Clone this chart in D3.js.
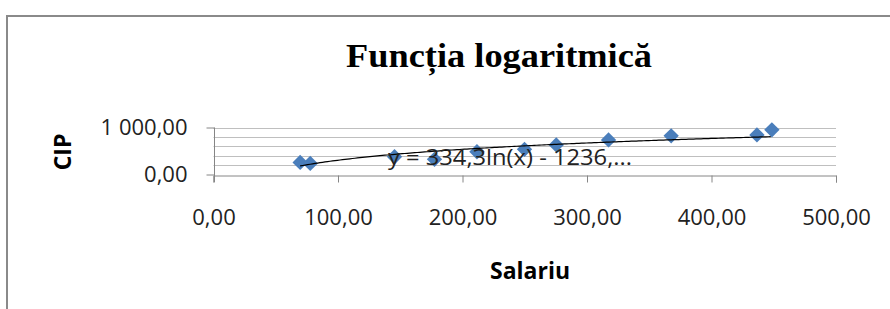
<!DOCTYPE html>
<html>
<head>
<meta charset="utf-8">
<script src="https://cdn.jsdelivr.net/npm/d3@7"></script>
<style>
body { margin: 0; background: #fff; }
</style>
</head>
<body>
<script>
// data
var salariu = [69.6, 77.7, 145.4, 177.5, 211.6, 249.8, 275.3, 317.3, 367.6, 436.5, 448.5];
var cip = [257, 236, 378, 322, 485, 536, 629, 736, 822, 843, 951];
var trendA = 334.3, trendB = -1236;
var xTicks = [0, 100, 200, 300, 400, 500];
var yGrid = [0, 200, 400, 600, 800, 1000];
var yLabels = [0, 1000];

var width = 890, height = 309;
var font = "'Open Sans', Lato, sans-serif";
var fmt = function(v) {
  return d3.format(",.2f")(v).replace(/,/g, " ").replace(".", ",");
};

var svg = d3.select("body").append("svg")
  .attr("width", width)
  .attr("height", height);

// outer frame
svg.append("path")
  .attr("d", "M7,309 V16 H890")
  .attr("fill", "none")
  .attr("stroke", "#8a8a8a")
  .attr("stroke-width", 2);

var x = d3.scaleLinear().domain([0, 500]).range([213.5, 836]);
var y = d3.scaleLinear().domain([0, 1000]).range([174.5, 127.5]);

// gridlines
svg.selectAll(".grid")
  .data(yGrid.slice(1))
  .enter().append("line")
  .attr("x1", x(0)).attr("x2", x(500))
  .attr("y1", function(d) { return Math.round(y(d)) + 0.5; })
  .attr("y2", function(d) { return Math.round(y(d)) + 0.5; })
  .attr("stroke", "#bfbfbf");

// y axis
var yAxis = svg.append("g")
  .attr("transform", "translate(" + (Math.round(x(0)) + 0.5) + ",0)")
  .call(d3.axisLeft(y).tickValues(yLabels).tickFormat(fmt).tickSize(8).tickPadding(19));

// x axis
var xAxis = svg.append("g")
  .attr("transform", "translate(0," + (Math.round(y(0)) + 0.5) + ")")
  .call(d3.axisBottom(x).tickValues(xTicks).tickFormat(fmt).tickSize(7).tickPadding(27));

[xAxis, yAxis].forEach(function(g) {
  g.select(".domain").attr("stroke", "#868686");
  g.selectAll(".tick line").attr("stroke", "#868686");
  g.selectAll("text")
    .attr("fill", "#222")
    .style("font-family", font)
    .style("font-size", "22px");
});
yAxis.select(".domain").attr("d", "M-0,127.5V182");

// trendline from label coefficients
var xs = d3.range(salariu[0], d3.max(salariu) + 0.1, 2);
var line = d3.line()
  .x(function(d) { return x(d); })
  .y(function(d) { return y(trendA * Math.log(d) + trendB); });

// points
var pts = salariu.map(function(d, i) { return [d, cip[i]]; });
svg.selectAll(".pt")
  .data(pts)
  .enter().append("path")
  .attr("d", d3.symbol().type(d3.symbolDiamond2).size(150))
  .attr("transform", function(d) { return "translate(" + x(d[0]) + "," + y(d[1]) + ")"; })
  .attr("fill", "#4a7ebb");

svg.append("path")
  .datum(xs)
  .attr("d", line)
  .attr("fill", "none")
  .attr("stroke", "#000")
  .attr("stroke-width", 1.2);

// trendline label
svg.append("text")
  .attr("x", 388).attr("y", 165)
  .attr("textLength", 244).attr("lengthAdjust", "spacingAndGlyphs")
  .style("font-family", font)
  .style("font-size", "22px")
  .attr("fill", "#222")
  .text("y = 334,3ln(x) - 1236,...");

// title
svg.append("text")
  .attr("x", 346).attr("y", 67)
  .attr("textLength", 306).attr("lengthAdjust", "spacingAndGlyphs")
  .style("font-family", "'Liberation Serif', serif")
  .style("font-weight", "bold")
  .style("font-size", "34px")
  .text("Funcția logaritmică");

// axis titles
svg.append("text")
  .attr("transform", "translate(71,152) rotate(-90)")
  .attr("text-anchor", "middle")
  .style("font-family", font)
  .style("font-weight", "bold")
  .style("font-size", "23px")
  .text("CIP");

svg.append("text")
  .attr("x", 530).attr("y", 279)
  .attr("text-anchor", "middle")
  .style("font-family", font)
  .style("font-weight", "bold")
  .style("font-size", "23px")
  .text("Salariu");
</script>
</body>
</html>
